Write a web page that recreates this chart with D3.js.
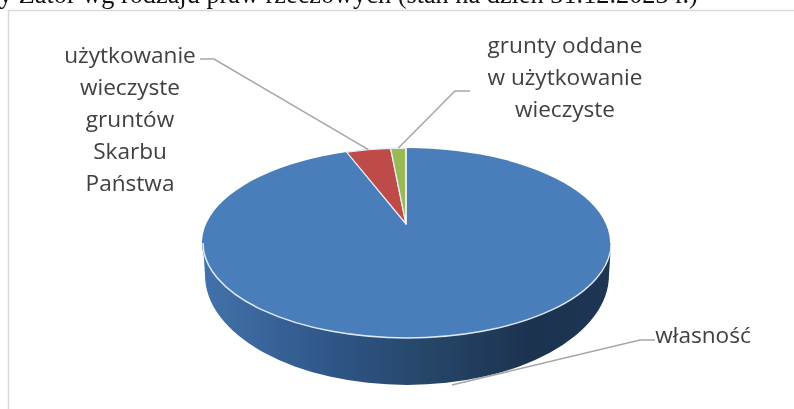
<!DOCTYPE html>
<html><head><meta charset="utf-8">
<script src="https://cdn.jsdelivr.net/npm/d3@7"></script>
<style>html,body{margin:0;padding:0;background:#fff}svg{display:block;filter:blur(0.35px)}</style>
</head><body><div id="c"></div>
<script>
const categories = ["własność", "użytkowanie wieczyste gruntów Skarbu Państwa", "grunty oddane w użytkowanie wieczyste"];
const values = [95.3, 3.5, 1.2];
const colors = ["#4a7ebb", "#be4b48", "#98b954"];
const title = "y Zator wg rodzaju praw rzeczowych (stan na dzień 31.12.2023 r.)";
const labelLines = [["własność"], ["użytkowanie","wieczyste","gruntów","Skarbu","Państwa"], ["grunty oddane","w użytkowanie","wieczyste"]];

const W = 794, H = 409;
const top_ = {cx:407, cy:243, rx:204, ry:95, ax:406, ay:224};
const bot = {cx:407, cy:275, rx:202, ry:110};
const svg = d3.select("#c").append("svg").attr("width",W).attr("height",H);
const defs = svg.append("defs");
const g = defs.append("linearGradient").attr("id","side").attr("x1","0").attr("x2","1").attr("y1","0").attr("y2","0");
[[0,"#4272aa"],[0.3,"#30578a"],[0.55,"#264668"],[0.8,"#1c3350"],[1,"#1e3553"]].forEach(s=>g.append("stop").attr("offset",s[0]).attr("stop-color",s[1]));

// frame
svg.append("path").attr("d",`M8.5,${H} V10.5 H${W}`).attr("fill","none").attr("stroke","#d9d9d9").attr("stroke-width",1.5);
svg.append("text").attr("x",-1).attr("y",3).attr("font-family","Liberation Serif").attr("font-size",26.3).attr("fill","#111").text(title);

// pie geometry
const pie = d3.pie().sort(null).startAngle(0).endAngle(2*Math.PI)(values);
const pt = a => [top_.cx + top_.rx*Math.sin(a) - 1, top_.cy - top_.ry*Math.cos(a)];

// side wall
const sx0 = top_.cx-top_.rx, sx1 = top_.cx+top_.rx;
svg.append("path").attr("fill","url(#side)")
 .attr("d",`M${sx0},${top_.cy} L${bot.cx-bot.rx},${bot.cy} A${bot.rx},${bot.ry} 0 0 0 ${bot.cx+bot.rx},${bot.cy} L${sx1},${top_.cy} Z`);

// top slices
svg.selectAll("path.s").data(pie).join("path").attr("class","s")
 .attr("fill",(d,i)=>colors[i]).attr("stroke","#e6edf5").attr("stroke-width",(d,i)=>i==0?0:1.3)
 .attr("stroke-linejoin","round")
 .attr("d",d=>{
   const p0=pt(d.startAngle), p1=pt(d.endAngle);
   const large=(d.endAngle-d.startAngle)>Math.PI?1:0;
   return `M${top_.ax},${top_.ay} L${p0} A${top_.rx},${top_.ry} 0 ${large} 1 ${p1} Z`;
 });
// rim highlight along the front
svg.append("path").attr("fill","none").attr("stroke","#dfe9f5").attr("stroke-width",1.5)
 .attr("d",`M${sx0},${top_.cy} A${top_.rx},${top_.ry} 0 0 0 ${sx1},${top_.cy}`);
// vertical separator at 12 o'clock
const p12=pt(0);
svg.append("line").attr("x1",top_.ax).attr("y1",top_.ay).attr("x2",p12[0]).attr("y2",p12[1]).attr("stroke","#eef3f8").attr("stroke-width",1.5);

// leader lines
const mid = i => pt((pie[i].startAngle+pie[i].endAngle)/2);
const leaders = [
 [[452,385],[640,340],[655,340]],
 [[200,59],[214,59],mid(1)],
 [[470,91],[455,91],mid(2)]
];
svg.selectAll("path.l").data(leaders).join("path").attr("class","l").attr("fill","none")
 .attr("stroke","#a6a6a6").attr("stroke-width",1.5).attr("d",d3.line());

// labels
const anchors = [[703,336],[130,56],[565,46]];
const lh = 32;
labelLines.forEach((lines,i)=>{
 const t = svg.append("text").attr("text-anchor","middle").attr("font-family","Open Sans").attr("font-size",22.6).attr("fill","#404040");
 lines.forEach((s,k)=>t.append("tspan").attr("x",anchors[i][0]).attr("y",anchors[i][1]+k*lh+7).text(s));
});
</script></body></html>
